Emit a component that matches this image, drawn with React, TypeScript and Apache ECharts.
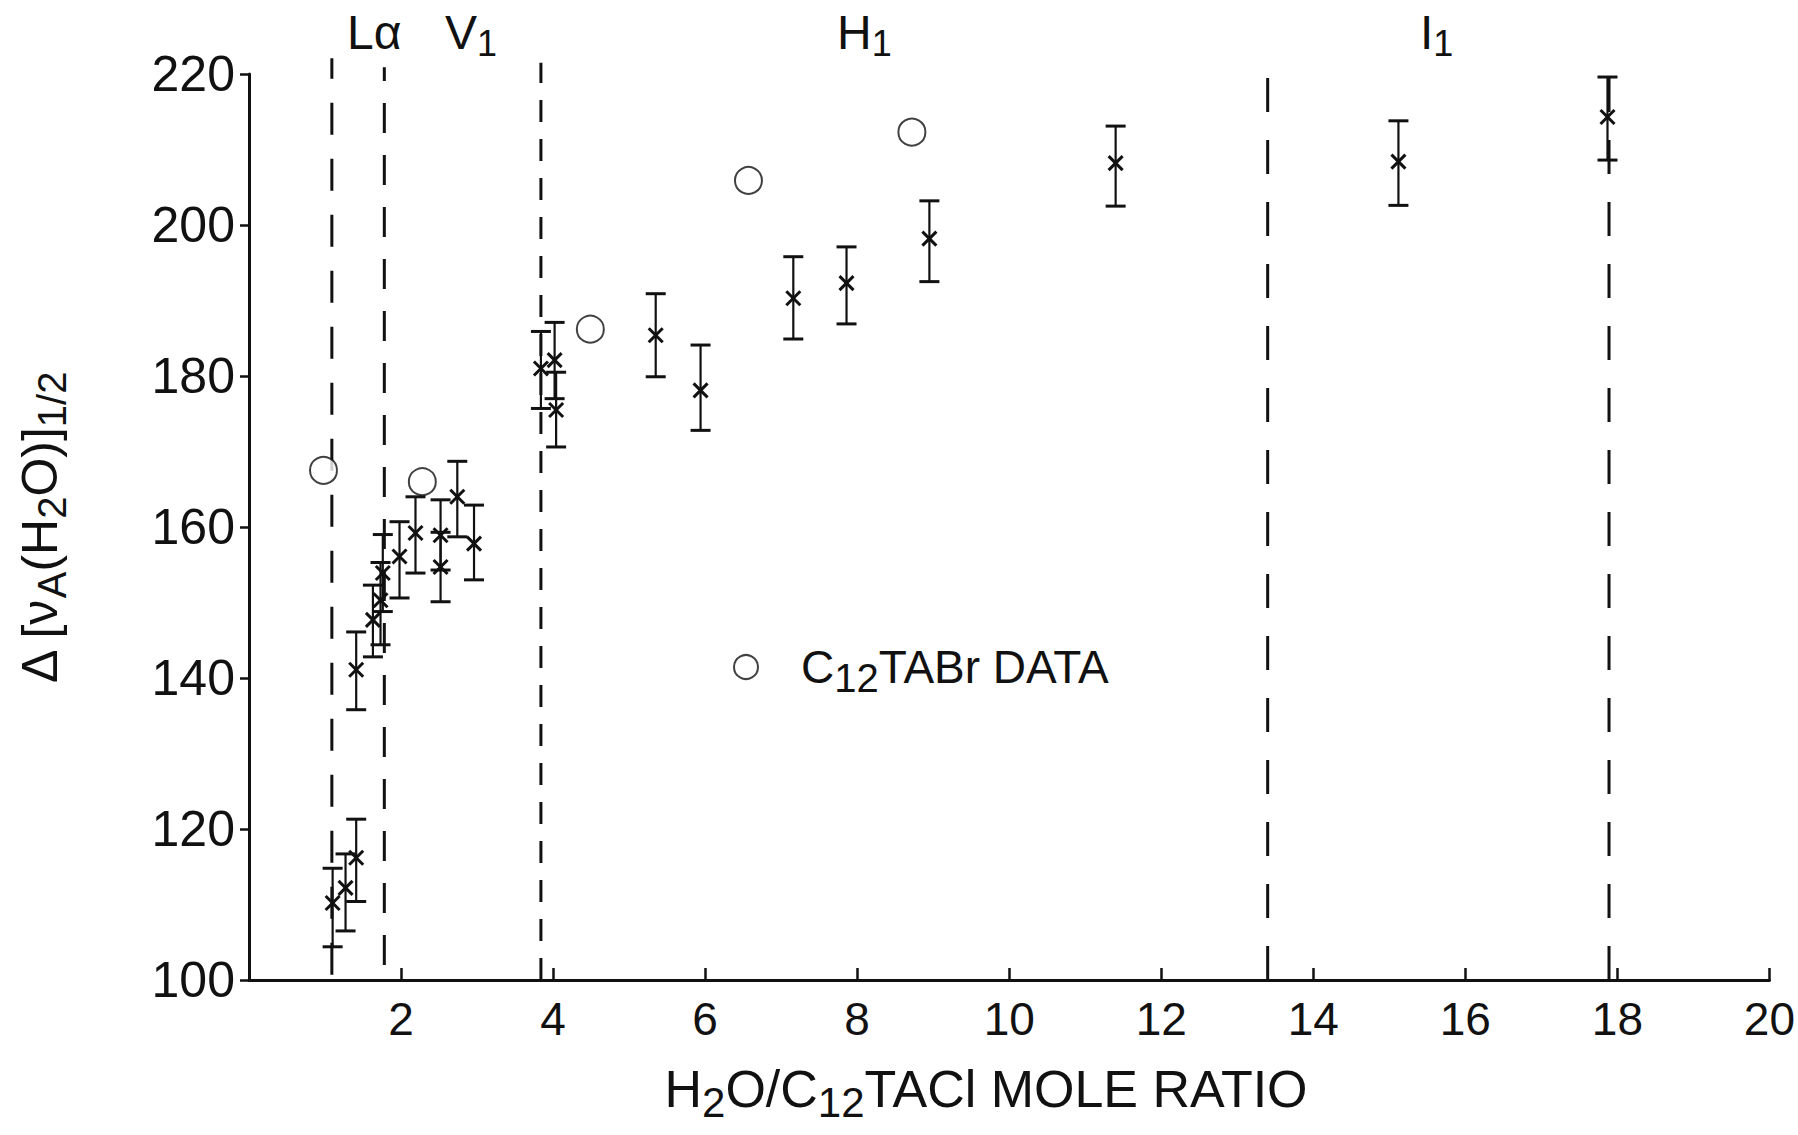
import React, { useEffect, useRef } from "react";
import * as echarts from "echarts";

// H2O / C12TACl mole ratio and line-width data with error limits (X markers)
const barX = [1.1, 1.27, 1.41, 1.41, 1.63, 1.76, 1.73, 1.98, 2.19, 2.52, 2.52, 2.74, 2.96, 3.84, 4.02, 4.04, 5.35, 5.94, 7.16, 7.86, 8.95, 11.4, 15.12, 17.87];
const barY = [110.2, 112.2, 116.2, 141.1, 147.7, 153.9, 150.3, 156.1, 159.2, 158.9, 154.7, 164.0, 157.8, 181.0, 182.1, 175.5, 185.4, 178.1, 190.3, 192.3, 198.2, 208.2, 208.4, 214.3];
const barLow = [104.4, 106.5, 110.4, 135.8, 142.8, 148.8, 144.4, 150.6, 153.9, 154.3, 150.1, 158.7, 153.0, 175.7, 177.0, 170.6, 179.9, 172.8, 184.9, 186.9, 192.5, 202.5, 202.6, 208.6];
const barHigh = [114.8, 116.7, 121.3, 146.1, 152.3, 159.0, 155.3, 160.7, 164.0, 163.6, 159.3, 168.7, 162.9, 185.9, 187.1, 180.5, 190.9, 184.1, 195.8, 197.1, 203.2, 213.1, 213.8, 219.6];

// C12TABr reference data (open circles)
const refName = "C12TABr DATA";
const refX = [0.98, 2.28, 4.49, 6.57, 8.72];
const refY = [167.5, 166.0, 186.2, 205.9, 212.3];

// Phase boundaries (dashed verticals)
const boundaryX = [1.09, 1.78, 3.84, 13.4, 17.89];
const boundaryLow = [100.7, 102, 100, 100, 100];
const boundaryHigh = [222.1, 220.9, 221.5, 221.1, 219.5];

// Phase names: main letter and subscript
const phaseMain = ["Lα", "V", "H", "I"];
const phaseSub = ["", "1", "1", "1"];

// Axis ranges and tick steps
const xMin = 0;
const xMax = 20;
const xStep = 2;
const yMin = 100;
const yMax = 220;
const yStep = 20;

const FONT = "'Liberation Sans', Arial, sans-serif";
const INK = "#111";

const subStyle = (size: number, drop: number) => ({
  fontSize: size,
  lineHeight: size,
  fontFamily: FONT,
  fill: INK,
  color: INK,
  padding: [drop, 0, 0, 0],
});

export default function App() {
  const ref = useRef<HTMLDivElement>(null);

  useEffect(() => {
    if (!ref.current) return;
    const chart = echarts.init(ref.current, null, { renderer: "svg" });

    const dashPatterns = [[32, 24], [30, 22], [22, 17], [34, 28], [34, 28]];
    const boundarySeries = boundaryX.map((x, i) => ({
      type: "line",
      silent: true,
      clip: false,
      symbol: "none",
      z: 1,
      data: [
        [x, boundaryLow[i]],
        [x, boundaryHigh[i]],
      ],
      lineStyle: { color: INK, width: 3, type: dashPatterns[i] },
    }));

    const errorData = barX.map((x, i) => [x, barY[i], barLow[i], barHigh[i]]);

    const phaseLeft = [347, 445, 837, 1420];
    const phaseGraphics = phaseMain.map((m, i) => ({
      type: "text",
      x: phaseLeft[i],
      y: 32,
      style: {
        text: phaseSub[i] ? `${m}{s|${phaseSub[i]}}` : m,
        fontSize: 48,
        lineHeight: 48,
        fontFamily: FONT,
        fill: INK,
        align: "left",
        verticalAlign: "middle",
        rich: { s: subStyle(36, 22) },
      },
    }));

    chart.setOption({
      animation: false,
      backgroundColor: "#fff",
      grid: { left: 249, right: 21, top: 74, bottom: 155, containLabel: false },
      legend: {
        data: [refName],
        left: 728,
        top: 631,
        itemWidth: 24,
        itemHeight: 24,
        icon: "circle",
        formatter: () => "C{s|12}TABr DATA",
        textStyle: {
          fontSize: 46,
          lineHeight: 46,
          fontFamily: FONT,
          color: INK,
          padding: [0, 0, 0, 38],
          rich: { s: { fontSize: 40, lineHeight: 40, fontFamily: FONT, color: INK, padding: [22, 0, 0, 0] } },
        },
      },
      xAxis: {
        type: "value",
        min: xMin,
        max: xMax,
        interval: xStep,
        splitLine: { show: false },
        axisLine: { lineStyle: { color: INK, width: 3 } },
        axisTick: { inside: true, length: 12, lineStyle: { color: INK, width: 2.5 } },
        axisLabel: {
          showMinLabel: false,
          margin: 16,
          fontSize: 46,
          fontFamily: FONT,
          color: INK,
        },
      },
      yAxis: {
        type: "value",
        min: yMin,
        max: yMax,
        interval: yStep,
        splitLine: { show: false },
        axisLine: { lineStyle: { color: INK, width: 3 } },
        axisTick: { length: 9, lineStyle: { color: INK, width: 2.5 } },
        axisLabel: { margin: 14, fontSize: 50, fontFamily: FONT, color: INK },
      },
      graphic: [
        ...phaseGraphics,
        {
          type: "text",
          x: 40,
          y: 528,
          rotation: Math.PI / 2,
          style: {
            text: "Δ [ν{s|A}(H{s|2}O)]{s|1/2}",
            fontSize: 50,
            lineHeight: 50,
            fontFamily: FONT,
            fill: INK,
            align: "center",
            verticalAlign: "middle",
            rich: { s: subStyle(40, 24) },
          },
        },
        {
          type: "text",
          x: 986,
          y: 1089,
          style: {
            text: "H{s|2}O/C{s|12}TACl MOLE RATIO",
            fontSize: 52,
            lineHeight: 52,
            fontFamily: FONT,
            fill: INK,
            align: "center",
            verticalAlign: "middle",
            rich: { s: subStyle(42, 26) },
          },
        },
      ],
      series: [
        ...boundarySeries,
        {
          type: "custom",
          name: "H2O/C12TACl",
          clip: false,
          z: 3,
          data: errorData,
          encode: { x: 0, y: 1 },
          renderItem: (params: any, api: any) => {
            const x = api.value(0);
            const c = api.coord([x, api.value(1)]);
            const lo = api.coord([x, api.value(2)]);
            const hi = api.coord([x, api.value(3)]);
            const cap = 10;
            const m = 7;
            const thin = { stroke: INK, lineWidth: 2.2 };
            const thick = { stroke: INK, lineWidth: 3 };
            return {
              type: "group",
              children: [
                { type: "line", shape: { x1: hi[0], y1: hi[1], x2: lo[0], y2: lo[1] }, style: thin },
                { type: "line", shape: { x1: hi[0] - cap, y1: hi[1], x2: hi[0] + cap, y2: hi[1] }, style: thick },
                { type: "line", shape: { x1: lo[0] - cap, y1: lo[1], x2: lo[0] + cap, y2: lo[1] }, style: thick },
                { type: "line", shape: { x1: c[0] - m, y1: c[1] - m, x2: c[0] + m, y2: c[1] + m }, style: thick },
                { type: "line", shape: { x1: c[0] - m, y1: c[1] + m, x2: c[0] + m, y2: c[1] - m }, style: thick },
              ],
            };
          },
        },
        {
          type: "scatter",
          name: refName,
          z: 4,
          symbol: "circle",
          symbolSize: 27,
          data: refX.map((x, i) => [x, refY[i]]),
          itemStyle: { color: "#fff", borderColor: INK, borderWidth: 2 },
        },
      ],
    });

    return () => chart.dispose();
  }, []);

  return (
    <div
      ref={ref}
      style={{ position: "fixed", left: 0, top: 0, width: 1798, height: 1135, background: "#fff" }}
    />
  );
}
